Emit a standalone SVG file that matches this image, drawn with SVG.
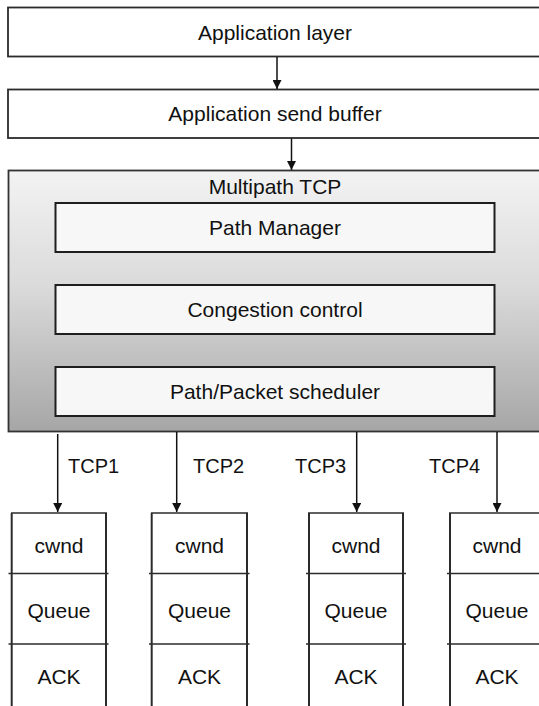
<svg xmlns="http://www.w3.org/2000/svg" width="539" height="706" viewBox="0 0 539 706">
  <style>
    .box { fill: #ffffff; stroke: #2b2b2b; stroke-width: 1.8; }
    .inner { fill: #f7f7f7; stroke: #1e1e1e; stroke-width: 2; }
    .lbl { font-family: "Liberation Sans", Arial, Helvetica, sans-serif; font-size: 21px; fill: #111111; text-anchor: middle; }
    .tcp { font-family: "Liberation Sans", Arial, Helvetica, sans-serif; font-size: 20px; fill: #111111; }
    .edge { stroke: #111111; stroke-width: 1.5; fill: none; marker-end: url(#arrow); }
    .div { stroke: #2b2b2b; stroke-width: 1.6; }
    .side { stroke: #2b2b2b; stroke-width: 2; }
  </style>
  <defs>
    <marker id="arrow" viewBox="0 0 10 10" refX="10" refY="5" markerWidth="9" markerHeight="9" markerUnits="userSpaceOnUse" orient="auto">
      <path d="M0,0 L10,5 L0,10 z" fill="#111111"/>
    </marker>
    <linearGradient id="mptcpFill" x1="0" y1="0" x2="0" y2="1">
      <stop offset="0" stop-color="#f3f3f3"/>
      <stop offset="0.45" stop-color="#dadada"/>
      <stop offset="1" stop-color="#a6a6a6"/>
    </linearGradient>
  </defs>

  <rect width="539" height="706" fill="#ffffff"/>

  <g id="app-layer">
    <rect class="box" x="8" y="7.5" width="540" height="49"/>
    <text class="lbl" x="275" y="39.5">Application layer</text>
  </g>

  <g id="send-buffer">
    <rect class="box" x="8" y="89.5" width="540" height="48.5"/>
    <text class="lbl" x="275" y="121">Application send buffer</text>
  </g>

  <g id="mptcp">
    <rect x="8.5" y="170.5" width="540" height="261" fill="url(#mptcpFill)" stroke="#333333" stroke-width="1.8"/>
    <text class="lbl" x="275" y="194">Multipath TCP</text>
    <g id="path-manager">
      <rect class="inner" x="55.5" y="203" width="439" height="49"/>
      <text class="lbl" x="275" y="235">Path Manager</text>
    </g>
    <g id="congestion-control">
      <rect class="inner" x="55.5" y="285" width="439" height="49"/>
      <text class="lbl" x="275" y="317">Congestion control</text>
    </g>
    <g id="scheduler">
      <rect class="inner" x="55.5" y="367" width="439" height="49"/>
      <text class="lbl" x="275" y="399">Path/Packet scheduler</text>
    </g>
  </g>

  <g id="subflow-1">
    <line class="side" x1="11.7" y1="513" x2="11.7" y2="710"/>
    <line class="side" x1="106" y1="513" x2="106" y2="710"/>
    <line class="div" x1="11" y1="513" x2="107" y2="513"/>
    <line class="div" x1="8.5" y1="573.5" x2="108.5" y2="573.5"/>
    <line class="div" x1="8.5" y1="644" x2="108.5" y2="644"/>
    <text class="lbl" x="59" y="553">cwnd</text>
    <text class="lbl" x="59" y="618">Queue</text>
    <text class="lbl" x="59" y="684">ACK</text>
  </g>

  <g id="subflow-2">
    <line class="side" x1="151.7" y1="513" x2="151.7" y2="710"/>
    <line class="side" x1="247" y1="513" x2="247" y2="710"/>
    <line class="div" x1="151" y1="513" x2="248" y2="513"/>
    <line class="div" x1="149" y1="573.5" x2="249.5" y2="573.5"/>
    <line class="div" x1="149" y1="644" x2="249.5" y2="644"/>
    <text class="lbl" x="199.5" y="553">cwnd</text>
    <text class="lbl" x="199.5" y="618">Queue</text>
    <text class="lbl" x="199.5" y="684">ACK</text>
  </g>

  <g id="subflow-3">
    <line class="side" x1="309" y1="513" x2="309" y2="710"/>
    <line class="side" x1="403" y1="513" x2="403" y2="710"/>
    <line class="div" x1="308" y1="513" x2="404" y2="513"/>
    <line class="div" x1="306" y1="573.5" x2="406" y2="573.5"/>
    <line class="div" x1="306" y1="644" x2="406" y2="644"/>
    <text class="lbl" x="356" y="553">cwnd</text>
    <text class="lbl" x="356" y="618">Queue</text>
    <text class="lbl" x="356" y="684">ACK</text>
  </g>

  <g id="subflow-4">
    <line class="side" x1="450" y1="513" x2="450" y2="710"/>
    <line class="side" x1="544" y1="513" x2="544" y2="710"/>
    <line class="div" x1="449" y1="513" x2="545" y2="513"/>
    <line class="div" x1="447" y1="573.5" x2="547" y2="573.5"/>
    <line class="div" x1="447" y1="644" x2="547" y2="644"/>
    <text class="lbl" x="497" y="553">cwnd</text>
    <text class="lbl" x="497" y="618">Queue</text>
    <text class="lbl" x="497" y="684">ACK</text>
  </g>

  <g id="connectors">
    <line class="edge" x1="277" y1="57" x2="277" y2="89"/>
    <line class="edge" x1="291.5" y1="138.5" x2="291.5" y2="170"/>
    <line class="edge" x1="57.7" y1="434" x2="57.7" y2="512"/>
    <line class="edge" x1="176.7" y1="432" x2="176.7" y2="512"/>
    <line class="edge" x1="356.7" y1="432" x2="356.7" y2="512"/>
    <line class="edge" x1="497" y1="432" x2="497" y2="512"/>
    <text class="tcp" x="68" y="473">TCP1</text>
    <text class="tcp" x="193" y="473">TCP2</text>
    <text class="tcp" x="295" y="473">TCP3</text>
    <text class="tcp" x="429" y="473">TCP4</text>
  </g>
</svg>
